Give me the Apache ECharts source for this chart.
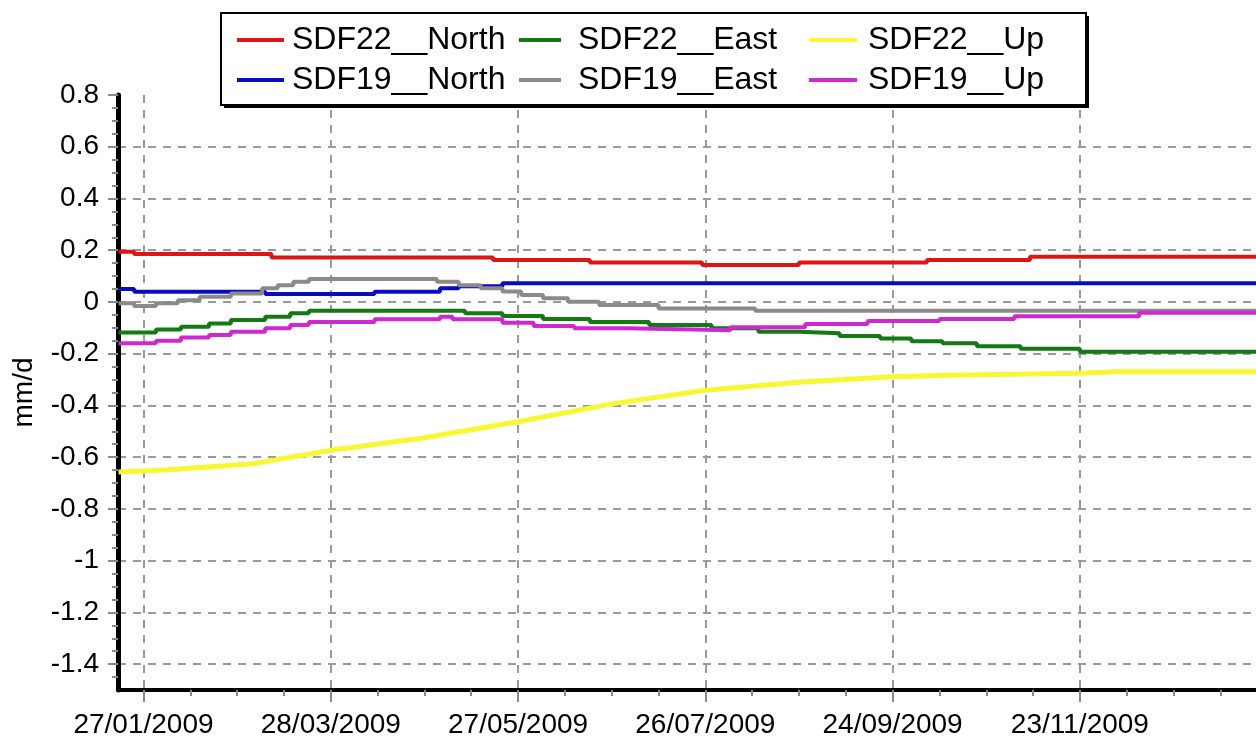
<!DOCTYPE html>
<html><head><meta charset="utf-8">
<script src="https://cdn.jsdelivr.net/npm/echarts@6/dist/echarts.min.js"></script>
<style>html,body{margin:0;padding:0;background:#fff}#c{width:1256px;height:742px}</style>
</head><body><div id="c"></div>
<script>
// ---- data ----
const xTickLabels = ['2009-01-27','2009-03-28','2009-05-27','2009-07-26','2009-09-24','2009-11-23'];
const yTickLabels = [-1.4,-1.2,-1,-0.8,-0.6,-0.4,-0.2,0,0.2,0.4,0.6,0.8];
const seriesNames = ['SDF22__North','SDF22__East','SDF22__Up','SDF19__North','SDF19__East','SDF19__Up'];
const yAxisTitle = 'mm/d';

const sdf22North = [['2009-01-19',0.194],['2009-01-24',0.185],['2009-03-09',0.172],['2009-05-19',0.162],['2009-06-19',0.153],['2009-07-25',0.143],['2009-08-25',0.153],['2009-10-05',0.162],['2009-11-07',0.175],['2010-01-20',0.175]];
const sdf22East = [['2009-01-19',-0.118],['2009-01-31',-0.106],['2009-02-08',-0.096],['2009-02-17',-0.083],['2009-02-24',-0.070],['2009-03-07',-0.057],['2009-03-15',-0.044],['2009-03-21',-0.034],['2009-05-10',-0.044],['2009-05-22',-0.054],['2009-06-04',-0.066],['2009-06-19',-0.077],['2009-07-08',-0.089],['2009-07-28',-0.102],['2009-08-12',-0.115],['2009-08-25',-0.121],['2009-09-07',-0.132],['2009-09-20',-0.141],['2009-09-30',-0.152],['2009-10-10',-0.160],['2009-10-21',-0.171],['2009-11-04',-0.181],['2009-11-23',-0.192],['2010-01-20',-0.192]];
const sdf22Up = [['2009-01-19',-0.657],['2009-02-03',-0.650],['2009-03-04',-0.624],['2009-03-28',-0.573],['2009-04-26',-0.527],['2009-05-27',-0.463],['2009-06-27',-0.392],['2009-07-26',-0.341],['2009-08-26',-0.309],['2009-09-24',-0.289],['2009-10-12',-0.283],['2009-11-23',-0.276],['2009-12-05',-0.270],['2010-01-20',-0.270]];
const sdf19North = [['2009-01-19',0.050],['2009-01-24',0.039],['2009-03-07',0.031],['2009-04-11',0.039],['2009-05-02',0.053],['2009-05-08',0.061],['2009-05-22',0.072],['2010-01-20',0.072]];
const sdf19East = [['2009-01-19',-0.005],['2009-01-24',-0.016],['2009-01-31',-0.005],['2009-02-07',0.007],['2009-02-14',0.020],['2009-02-24',0.033],['2009-03-06',0.053],['2009-03-11',0.065],['2009-03-16',0.078],['2009-03-21',0.089],['2009-05-01',0.078],['2009-05-08',0.065],['2009-05-15',0.053],['2009-05-22',0.040],['2009-05-28',0.027],['2009-06-04',0.014],['2009-06-12',0.001],['2009-06-22',-0.012],['2009-07-11',-0.025],['2009-08-11',-0.034],['2010-01-20',-0.034]];
const sdf19Up = [['2009-01-19',-0.160],['2009-01-31',-0.150],['2009-02-08',-0.137],['2009-02-17',-0.128],['2009-02-24',-0.115],['2009-03-07',-0.102],['2009-03-15',-0.089],['2009-03-21',-0.077],['2009-04-11',-0.067],['2009-05-02',-0.057],['2009-05-06',-0.067],['2009-05-22',-0.080],['2009-06-01',-0.093],['2009-06-14',-0.102],['2009-07-01',-0.109],['2009-08-03',-0.098],['2009-08-27',-0.085],['2009-09-16',-0.074],['2009-10-09',-0.066],['2009-11-02',-0.055],['2009-12-12',-0.042],['2010-01-20',-0.042]];

// ---- build ----
const FONT = '"Liberation Sans", Arial, sans-serif';
const seriesData = [sdf22North, sdf22East, sdf22Up, sdf19North, sdf19East, sdf19Up];
const seriesColors = ['#dd1515','#137a13','#f8f832','#0a0ac0','#8a8a8a','#d028d0'];
const seriesWidths = [4,4,5,4,4,4];

const DAY = 86400000;
function toT(s){ const p = s.split('-').map(Number); return Date.UTC(p[0], p[1]-1, p[2]); }
const minT = toT('2009-01-18') + 20*3600000, maxT = toT('2010-01-18') + 10*3600000;
const xMajor = xTickLabels.map(toT);
const xMinor = [];
for (let k = -4; k <= 30; k++) {
  if (k % 4 === 0) continue;
  const t = xMajor[0] + k*15*DAY;
  if (t > minT && t < maxT) xMinor.push(t);
}
const yMinor = [];
for (let i = -29; i <= 15; i++) {
  const c = i*5;
  if (c % 20 !== 0) yMinor.push(c/100);
}
const pad = n => (n < 10 ? '0' : '') + n;
const fmtDate = v => { const d = new Date(v); return pad(d.getUTCDate()) + '/' + pad(d.getUTCMonth()+1) + '/' + d.getUTCFullYear(); };

const gridDash = { type: [8,7], width: 2, color: '#9a9a9a' };

// legend columns: [left, total icon box width, drawn sample width]
const legCols = [[237,50,47],[519,54,42],[809,54,48]];
const legRows = [24,64];
const legends = seriesNames.map((n, i) => {
  const col = legCols[i % 3], top = legRows[Math.floor(i / 3)];
  return {
    data: [n], left: col[0], top: top, padding: 0,
    icon: 'path://M0,0L' + col[2] + ',0L' + col[2] + ',4L0,4Z M' + col[1] + ',0L' + col[1] + ',4',
    itemWidth: col[1], itemHeight: 4, itemGap: 0, selectedMode: false, z: 20,
    textStyle: { fontSize: 32, fontFamily: FONT, color: '#000' }
  };
});

const option = {
  animation: false,
  backgroundColor: '#fff',
  grid: { left: 118, right: 0, top: 95, bottom: 52, containLabel: false, outerBoundsMode: 'none' },
  legend: legends,
  graphic: [
    { type: 'rect', left: 224, top: 16, shape: { width: 865, height: 92 }, style: { fill: '#000' }, z: 9 },
    { type: 'rect', left: 220, top: 12, shape: { width: 865, height: 92 }, style: { fill: '#fff', stroke: '#000', lineWidth: 2 }, z: 10 }
  ],
  xAxis: [
    { type: 'value', min: minT, max: maxT, position: 'bottom',
      axisLine: { onZero: false, lineStyle: { color: '#000', width: 4 } },
      axisTick: { customValues: xMajor, length: 12, lineStyle: { color: '#888', width: 2 } },
      axisLabel: { customValues: xMajor, formatter: fmtDate, fontSize: 28, fontFamily: FONT, color: '#000', margin: 21 },
      splitLine: { show: true, showMaxLine: true, showMinLine: true, lineStyle: gridDash } },
    { type: 'value', min: minT, max: maxT, position: 'bottom',
      axisLine: { show: false, onZero: false },
      axisTick: { customValues: xMinor, length: 6, lineStyle: { color: '#888', width: 2 } },
      axisLabel: { show: false }, splitLine: { show: false } }
  ],
  yAxis: [
    { type: 'value', min: -1.5, max: 0.8, position: 'left',
      name: yAxisTitle, nameLocation: 'middle', nameRotate: 90, nameGap: 80,
      nameTextStyle: { fontSize: 28, fontFamily: FONT, color: '#000' },
      axisLine: { show: true, onZero: false, lineStyle: { color: '#000', width: 5 } },
      axisTick: { customValues: yTickLabels, length: 10, lineStyle: { color: '#888', width: 2 } },
      axisLabel: { customValues: yTickLabels, formatter: v => String(Math.round(v*10)/10), fontSize: 28, fontFamily: FONT, color: '#000', margin: 19 },
      splitLine: { show: true, showMaxLine: false, showMinLine: true, lineStyle: gridDash } },
    { type: 'value', min: -1.5, max: 0.8, position: 'left',
      axisLine: { show: false, onZero: false },
      axisTick: { customValues: yMinor, length: 6, lineStyle: { color: '#888', width: 2 } },
      axisLabel: { show: false }, splitLine: { show: false } }
  ],
  series: seriesNames.map((n, i) => ({
    name: n, type: 'line', step: i === 2 ? false : 'end',
    data: seriesData[i].map(p => [toT(p[0]), p[1]]),
    xAxisIndex: 0, yAxisIndex: 0, symbol: 'none', showSymbol: false,
    lineStyle: { width: seriesWidths[i], color: seriesColors[i] },
    itemStyle: { color: seriesColors[i] }, z: 2 + i
  }))
};
const chart = echarts.init(document.getElementById('c'), null, { renderer: 'canvas' });
chart.setOption(option);
</script>
</body></html>
